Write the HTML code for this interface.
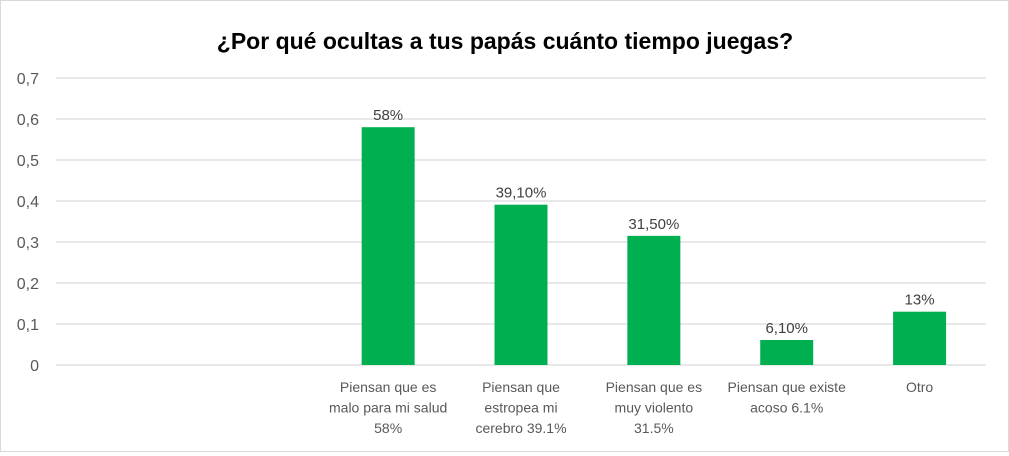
<!DOCTYPE html>
<html><head><meta charset="utf-8"><style>
body{margin:0;background:#fff;}
#c{position:relative;width:1009px;height:452px;box-sizing:border-box;border:1px solid #d9d9d9;font-family:"Liberation Sans",sans-serif;}
svg text{font-family:"Liberation Sans",sans-serif;}
</style></head><body>
<div id="c">
<svg id="s" width="1007" height="450">
<text x="504" y="48" text-anchor="middle" font-size="23" font-weight="bold" fill="#000">¿Por qué ocultas a tus papás cuánto tiempo juegas?</text>
</svg>
</div>
<script>
const categories=["","","Piensan que es|malo para mi salud|58%","Piensan que|estropea mi|cerebro 39.1%","Piensan que es|muy violento|31.5%","Piensan que existe|acoso 6.1%","Otro"];
const values=[null,null,0.58,0.391,0.315,0.061,0.13];
const valueLabels=["","","58%","39,10%","31,50%","6,10%","13%"];
const ticks=[0,0.1,0.2,0.3,0.4,0.5,0.6,0.7];
const tickLabels=["0","0,1","0,2","0,3","0,4","0,5","0,6","0,7"];
const s=document.getElementById('s');const NS='http://www.w3.org/2000/svg';
const x0=55,x1=985,y0=364,yTop=77,vmax=0.7;
const y=v=>y0-(v/vmax)*(y0-yTop);
const bw=(x1-x0)/categories.length;
const xc=i=>x0+bw*(i+0.5);
function mk(t,a){const e=document.createElementNS(NS,t);for(const k in a)e.setAttribute(k,a[k]);s.appendChild(e);return e;}
ticks.forEach((t,i)=>{
 const g=mk('line',{x1:x0,x2:x1,y1:y(t),y2:y(t),stroke:'#d9d9d9','stroke-width':1.3});
 
 
 const l=mk('text',{x:38,y:y(t)+6,'text-anchor':'end','font-size':16,fill:'#595959'});l.textContent=tickLabels[i];
 
 
});
values.forEach((v,i)=>{
 if(v!=null){
  const r=mk('rect',{x:xc(i)-26.5,y:y(v),width:53,height:y0-y(v),fill:'#00b050'});
  
  
  const t=mk('text',{x:xc(i),y:y(v)-7,'text-anchor':'middle','font-size':15,fill:'#404040'});t.textContent=valueLabels[i];
  
  
 }
 categories[i].split('|').forEach((ln,j)=>{if(!ln)return;
  const t=mk('text',{x:xc(i),y:391+j*20.5,'text-anchor':'middle','font-size':14,fill:'#595959'});t.textContent=ln;
  
  
 });
});
</script>
</body></html>
